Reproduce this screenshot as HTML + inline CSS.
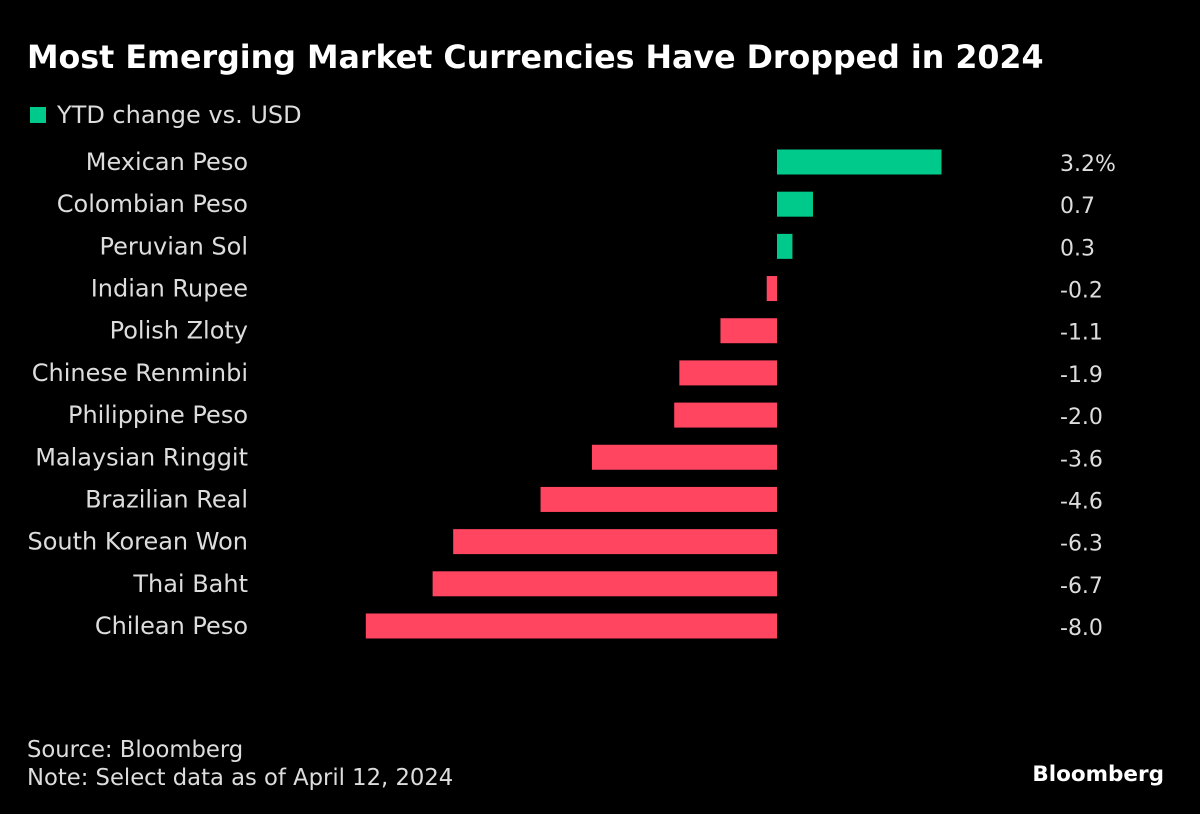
<!DOCTYPE html>
<html><head><meta charset="utf-8"><style>
body{margin:0;background:#000;width:1200px;height:814px;overflow:hidden;font-family:"DejaVu Sans",sans-serif;color:#fff}
svg{position:absolute;left:0;top:0;font-family:"DejaVu Sans",sans-serif}
</style></head><body>
<svg width="1200" height="814">
<text x="27" y="68" font-size="31.7" font-weight="bold" fill="#fff">Most Emerging Market Currencies Have Dropped in 2024</text>
<rect x="30" y="107" width="16" height="16" fill="#00c98c"/>
<text x="57" y="123" font-size="24" fill="#ddd">YTD change vs. USD</text>
<g id="bars"></g>
<text x="27" y="757" font-size="22.7" fill="#ddd">Source: Bloomberg</text>
<text x="27" y="785" font-size="22.7" fill="#ddd">Note: Select data as of April 12, 2024</text>
<text x="1164" y="781" font-size="21.5" font-weight="bold" fill="#fff" text-anchor="end">Bloomberg</text>
</svg>
<script>
const categories=["Mexican Peso","Colombian Peso","Peruvian Sol","Indian Rupee","Polish Zloty","Chinese Renminbi","Philippine Peso","Malaysian Ringgit","Brazilian Real","South Korean Won","Thai Baht","Chilean Peso"];
const values=[3.2,0.7,0.3,-0.2,-1.1,-1.9,-2.0,-3.6,-4.6,-6.3,-6.7,-8.0];
const valueLabels=["3.2%","0.7","0.3","-0.2","-1.1","-1.9","-2.0","-3.6","-4.6","-6.3","-6.7","-8.0"];
const NS="http://www.w3.org/2000/svg";
const g=document.getElementById('bars');
const x=v=>777+v*51.4;
const y=i=>162+i*42.18;
categories.forEach((c,i)=>{
 const v=values[i];
 const r=document.createElementNS(NS,'rect');
 r.setAttribute('x',Math.min(x(0),x(v)));
 r.setAttribute('y',y(i)-12.5);
 r.setAttribute('width',Math.abs(x(v)-x(0)));
 r.setAttribute('height',25);
 r.setAttribute('fill',v>=0?'#00c98c':'#ff4560');
 
 
 g.appendChild(r);
 const t=document.createElementNS(NS,'text');
 t.setAttribute('x',248);t.setAttribute('y',y(i)+8);
 t.setAttribute('text-anchor','end');t.setAttribute('font-size','24');t.setAttribute('fill','#ddd');
 t.textContent=c;
 
 
 g.appendChild(t);
 const vt=document.createElementNS(NS,'text');
 vt.setAttribute('x',1060);vt.setAttribute('y',y(i)+9);
 vt.setAttribute('font-size','22');vt.setAttribute('fill','#ddd');
 vt.textContent=valueLabels[i];
 
 
 g.appendChild(vt);
});
</script>
</body></html>
